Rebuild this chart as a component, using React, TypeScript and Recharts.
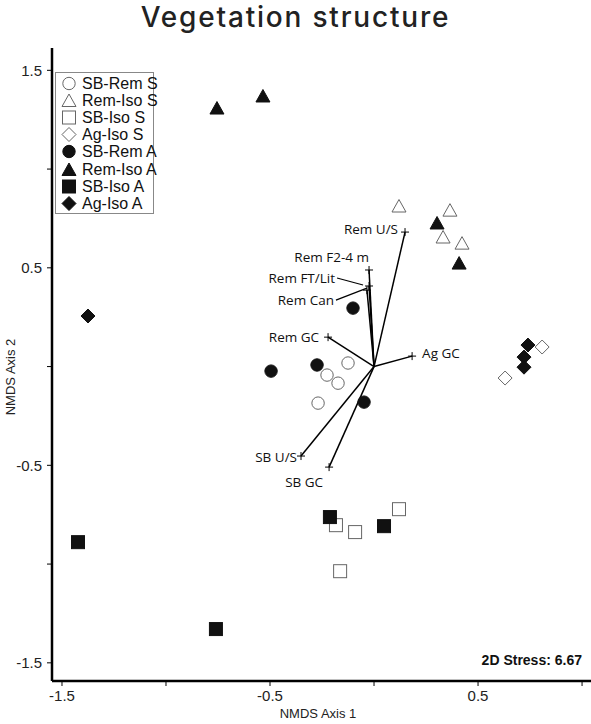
import { ReferenceLine, Scatter, ScatterChart, XAxis, YAxis } from "recharts";

// site scores
const sbRemS = [
  { x: -0.125, y: 0.018 },
  { x: -0.226, y: -0.043 },
  { x: -0.173, y: -0.084 },
  { x: -0.269, y: -0.185 },
];
const remIsoS = [
  { x: 0.12, y: 0.813 },
  { x: 0.365, y: 0.792 },
  { x: 0.332, y: 0.656 },
  { x: 0.423, y: 0.625 },
];
const sbIsoS = [
  { x: -0.183, y: -0.803 },
  { x: -0.091, y: -0.838 },
  { x: 0.12, y: -0.722 },
  { x: -0.163, y: -1.036 },
];
const agIsoS = [
  { x: 0.808, y: 0.099 },
  { x: 0.63, y: -0.058 },
];
const sbRemA = [
  { x: -0.101, y: 0.296 },
  { x: -0.274, y: 0.008 },
  { x: -0.495, y: -0.023 },
  { x: -0.048, y: -0.18 },
];
const remIsoA = [
  { x: -0.755, y: 1.309 },
  { x: -0.534, y: 1.37 },
  { x: 0.303, y: 0.727 },
  { x: 0.409, y: 0.524 },
];
const sbIsoA = [
  { x: -1.423, y: -0.889 },
  { x: -0.212, y: -0.762 },
  { x: 0.048, y: -0.808 },
  { x: -0.76, y: -1.329 },
];
const agIsoA = [
  { x: -1.375, y: 0.256 },
  { x: 0.74, y: 0.109 },
  { x: 0.721, y: 0.048 },
  { x: 0.721, y: -0.003 },
];

// vegetation vectors (end points)
const vectorNames = [
  "Rem U/S",
  "Rem F2-4 m",
  "Rem FT/Lit",
  "Rem Can",
  "Rem GC",
  "Ag GC",
  "SB U/S",
  "SB GC",
];
const vectorX = [0.149, -0.024, -0.024, -0.034, -0.221, 0.183, -0.351, -0.216];
const vectorY = [0.681, 0.489, 0.408, 0.387, 0.149, 0.053, -0.453, -0.509];

const xTicks = [-1.5, -1, -0.5, 0, 0.5, 1];
const xTickLabels = ["-1.5", "", "-0.5", "", "0.5", ""];
const yTicks = [-1.5, -1, -0.5, 0, 0.5, 1, 1.5];
const yTickLabels = ["-1.5", "", "-0.5", "", "0.5", "", "1.5"];

type Kind = "circle" | "triangle" | "square" | "diamond";

const series: { name: string; data: { x: number; y: number }[]; kind: Kind; filled: boolean }[] = [
  { name: "SB-Rem S", data: sbRemS, kind: "circle", filled: false },
  { name: "Rem-Iso S", data: remIsoS, kind: "triangle", filled: false },
  { name: "SB-Iso S", data: sbIsoS, kind: "square", filled: false },
  { name: "Ag-Iso S", data: agIsoS, kind: "diamond", filled: false },
  { name: "SB-Rem A", data: sbRemA, kind: "circle", filled: true },
  { name: "Rem-Iso A", data: remIsoA, kind: "triangle", filled: true },
  { name: "SB-Iso A", data: sbIsoA, kind: "square", filled: true },
  { name: "Ag-Iso A", data: agIsoA, kind: "diamond", filled: true },
];

// where each vector label sits relative to its end point (px)
const labelPos: Record<string, { dx: number; dy: number; anchor: string; leader?: number[] }> = {
  "Rem U/S": { dx: -7, dy: -3, anchor: "end" },
  "Rem F2-4 m": { dx: 0, dy: -13, anchor: "end" },
  "Rem FT/Lit": { dx: -34, dy: -8, anchor: "end", leader: [-32, -8, -6, -1] },
  "Rem Can": { dx: -33, dy: 10, anchor: "end", leader: [-31, 10, 0, -2] },
  "Rem GC": { dx: -9, dy: 0, anchor: "end" },
  "Ag GC": { dx: 10, dy: -3, anchor: "start" },
  "SB U/S": { dx: -4, dy: 1, anchor: "end" },
  "SB GC": { dx: -6, dy: 15, anchor: "end" },
};

const vectors = vectorNames.map((name, i) => ({ name, x: vectorX[i], y: vectorY[i] }));

const marker = (kind: Kind, filled: boolean, cx: number, cy: number) => {
  const fill = filled ? "#111" : "#fff";
  const stroke = filled ? "#111" : "#666";
  if (kind === "circle")
    return <circle cx={cx} cy={cy} r={6.2} fill={fill} stroke={stroke} strokeWidth={1} />;
  if (kind === "triangle")
    return (
      <polygon
        points={`${cx},${cy - 6.5} ${cx + 7},${cy + 6} ${cx - 7},${cy + 6}`}
        fill={fill}
        stroke={stroke}
        strokeWidth={1}
      />
    );
  if (kind === "square")
    return <rect x={cx - 6.5} y={cy - 6.5} width={13} height={13} fill={fill} stroke={stroke} strokeWidth={1} />;
  return (
    <polygon
      points={`${cx},${cy - 7} ${cx + 7},${cy} ${cx},${cy + 7} ${cx - 7},${cy}`}
      fill={fill}
      stroke={stroke}
      strokeWidth={1}
    />
  );
};

const VectorEnd = (props: any) => {
  const { cx, cy, payload } = props;
  const p = labelPos[payload.name];
  return (
    <g>
      <line x1={cx - 4} y1={cy} x2={cx + 4} y2={cy} stroke="#000" strokeWidth={1} />
      <line x1={cx} y1={cy - 4} x2={cx} y2={cy + 4} stroke="#000" strokeWidth={1} />
      {p.leader && (
        <line
          x1={cx + p.leader[0]}
          y1={cy + p.leader[1]}
          x2={cx + p.leader[2]}
          y2={cy + p.leader[3]}
          stroke="#000"
          strokeWidth={1.2}
        />
      )}
      <text
        x={cx + p.dx}
        y={cy + p.dy}
        dy="0.35em"
        textAnchor={p.anchor}
        fontSize={13.5}
        fontFamily="Open Sans, sans-serif"
        fill="#111"
      >
        {payload.name}
      </text>
    </g>
  );
};

const tickStyle = { fontSize: 15, fontFamily: "Liberation Sans, Arial, sans-serif", fill: "#222" };

export default function App() {
  return (
    <div style={{ position: "absolute", left: 0, top: 0, width: 591, height: 724, background: "#fff" }}>
      <div
        style={{
          position: "absolute",
          left: 0,
          top: 2,
          width: 591,
          textAlign: "center",
          fontFamily: "Inter, sans-serif",
          fontWeight: 500,
          fontSize: 28,
          letterSpacing: 1.8,
          color: "#222",
          lineHeight: "30px",
        }}
      >
        Vegetation structure
      </div>
      <ScatterChart width={591} height={724} margin={{ top: 48, right: 0, bottom: 0, left: 0 }}>
        <XAxis
          type="number"
          dataKey="x"
          domain={[-1.548, 1.043]}
          allowDataOverflow
          ticks={xTicks}
          tickFormatter={(v: number) => xTickLabels[xTicks.indexOf(v)]}
          tickSize={5}
          tickMargin={4}
          height={43}
          tick={tickStyle}
          tickLine={{ stroke: "#000" }}
          axisLine={{ stroke: "#000", strokeWidth: 2.5 }}
        />
        <YAxis
          type="number"
          dataKey="y"
          domain={[-1.592, 1.613]}
          allowDataOverflow
          ticks={yTicks}
          tickFormatter={(v: number) => yTickLabels[yTicks.indexOf(v)]}
          tickSize={5}
          tickMargin={5}
          width={52}
          tick={tickStyle}
          tickLine={{ stroke: "#000" }}
          axisLine={{ stroke: "#000", strokeWidth: 2.5 }}
        />
        {vectors.map((v) => (
          <ReferenceLine
            key={v.name}
            segment={[
              { x: 0, y: 0 },
              { x: v.x, y: v.y },
            ]}
            stroke="#000"
            strokeWidth={1.5}
            ifOverflow="visible"
          />
        ))}
        <Scatter data={vectors} shape={VectorEnd} isAnimationActive={false} />
        {series.map((s) => (
          <Scatter
            key={s.name}
            name={s.name}
            data={s.data}
            isAnimationActive={false}
            shape={(p: any) => marker(s.kind, s.filled, p.cx, p.cy)}
          />
        ))}
      </ScatterChart>

      <div
        style={{
          position: "absolute",
          left: 55,
          top: 72,
          width: 97,
          height: 140,
          border: "1px solid #888",
          background: "#fff",
          fontFamily: "Liberation Sans, Arial, sans-serif",
          fontSize: 16,
          color: "#111",
        }}
      >
        {series.map((s, i) => (
          <div
            key={s.name}
            style={{ position: "absolute", left: 0, top: 2 + i * 17.1, height: 17, display: "flex", alignItems: "center" }}
          >
            <svg width={26} height={17}>
              {marker(s.kind, s.filled, 13, 8.5)}
            </svg>
            <span style={{ marginLeft: 0, whiteSpace: "nowrap", lineHeight: "17px" }}>{s.name}</span>
          </div>
        ))}
      </div>

      <div
        style={{
          position: "absolute",
          right: 9,
          top: 651,
          fontFamily: "Liberation Sans, Arial, sans-serif",
          fontWeight: "bold",
          fontSize: 14,
          lineHeight: "18px",
          color: "#111",
        }}
      >
        2D Stress: 6.67
      </div>
      <div
        style={{
          position: "absolute",
          left: 318,
          top: 713,
          transform: "translate(-50%, -50%)",
          fontFamily: "Liberation Sans, Arial, sans-serif",
          fontSize: 13,
          color: "#222",
          whiteSpace: "nowrap",
        }}
      >
        NMDS Axis 1
      </div>
      <div
        style={{
          position: "absolute",
          left: 10,
          top: 377,
          transform: "translate(-50%, -50%) rotate(-90deg)",
          fontFamily: "Liberation Sans, Arial, sans-serif",
          fontSize: 13,
          color: "#222",
          whiteSpace: "nowrap",
        }}
      >
        NMDS Axis 2
      </div>
    </div>
  );
}
